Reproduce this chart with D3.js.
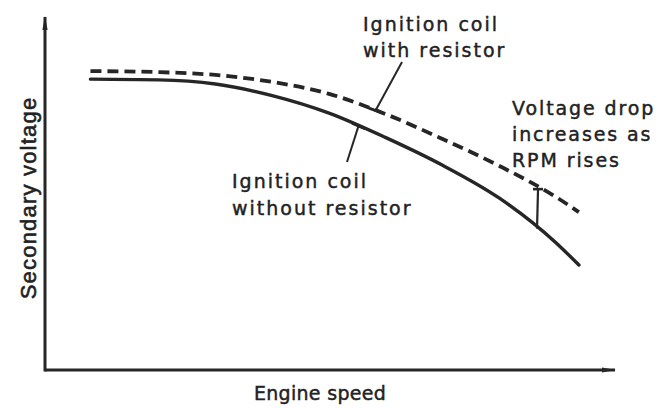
<!DOCTYPE html>
<html>
<head>
<meta charset="utf-8">
<script src="https://cdn.jsdelivr.net/npm/d3@7"></script>
<style>
  html, body { margin: 0; padding: 0; background: #fff; }
  svg { display: block; }
  .lbl { font-family: "DejaVu Sans", sans-serif; fill: #222; stroke: #222; stroke-width: 0.45px; }
</style>
</head>
<body>
<svg id="chart" width="659" height="408"></svg>
<script>
// Engine speed (relative units) sampled along both curves
const speed = [8, 20, 30, 40, 50, 60, 70, 80, 90, 94];
// Secondary voltage (relative units)
const withoutResistor = [83.1, 82.9, 81.7, 78.4, 73.4, 66.4, 58.5, 49.1, 36.3, 30.0];
const withResistor    = [85.4, 85.1, 84.3, 82.3, 78.9, 73.1, 66.0, 58.3, 49.4, 45.1];

const axisLabels = { x: "Engine speed", y: "Secondary voltage" };
const calloutWith = ["Ignition coil", "with resistor"];
const calloutWithout = ["Ignition coil", "without resistor"];
const calloutDrop = ["Voltage drop", "increases as", "RPM rises"];
// speeds where the pointers touch the curves
const pointerWithAt = 58.2;
const pointerWithoutAt = 55.2;
const dropAt = 86.8;

const svg = d3.select("#chart");
const ink = "#262626";

const x = d3.scaleLinear().domain([0, 100]).range([45, 613]);
const y = d3.scaleLinear().domain([0, 100]).range([370, 20]);

// arrowheads for the axes
const defs = svg.append("defs");
defs.append("marker")
  .attr("id", "arrow")
  .attr("viewBox", "0 0 14 6")
  .attr("refX", 13).attr("refY", 3)
  .attr("markerWidth", 14).attr("markerHeight", 6)
  .attr("markerUnits", "userSpaceOnUse")
  .attr("orient", "auto")
  .append("path")
  .attr("d", "M0,0.4 L14,3 L0,5.6 Z")
  .attr("fill", ink);

// axes: plain lines without ticks
const xAxis = d3.axisBottom(x).tickValues([]).tickSizeOuter(0);
const yAxis = d3.axisLeft(y).tickValues([]).tickSizeOuter(0);

const gx = svg.append("g").attr("transform", `translate(0,${y(0)})`).call(xAxis);
gx.select(".domain")
  .attr("d", `M${x(0)},0H${x(100) + 2}`)
  .attr("stroke", ink).attr("stroke-width", 3)
  .attr("marker-end", "url(#arrow)");

const gy = svg.append("g").attr("transform", `translate(${x(0)},0)`).call(yAxis);
gy.select(".domain")
  .attr("d", `M0,${y(0) + 1.5}V${y(100) - 3}`)
  .attr("stroke", ink).attr("stroke-width", 3)
  .attr("marker-end", "url(#arrow)");

// curves
const line = d3.line()
  .x((d, i) => x(speed[i]))
  .y(d => y(d))
  .curve(d3.curveMonotoneX);

svg.append("path")
  .datum(withoutResistor)
  .attr("d", line)
  .attr("fill", "none")
  .attr("stroke", ink)
  .attr("stroke-width", 3.4)
  .attr("stroke-linecap", "round");

svg.append("path")
  .datum(withResistor)
  .attr("d", line)
  .attr("fill", "none")
  .attr("stroke", ink)
  .attr("stroke-width", 3.8)
  .attr("stroke-dasharray", "11,6");

// value on a series at a given speed (linear between samples)
function valueAt(series, s) {
  const i = Math.max(1, Math.min(speed.length - 1, d3.bisectLeft(speed, s)));
  const t = (s - speed[i - 1]) / (speed[i] - speed[i - 1]);
  return series[i - 1] + t * (series[i] - series[i - 1]);
}

// pointer line with a short bar at the curve end
function pointer(x1, y1, s, series) {
  const px = x(s), py = y(valueAt(series, s));
  svg.append("line")
    .attr("x1", x1).attr("y1", y1).attr("x2", px).attr("y2", py)
    .attr("stroke", ink).attr("stroke-width", 2);
  const dx = x(s + 2) - x(s - 2);
  const dy = y(valueAt(series, s + 2)) - y(valueAt(series, s - 2));
  const len = Math.hypot(dx, dy);
  const ux = dx / len * 7, uy = dy / len * 7;
  svg.append("line")
    .attr("x1", px - ux).attr("y1", py - uy)
    .attr("x2", px + ux).attr("y2", py + uy)
    .attr("stroke", ink).attr("stroke-width", 3);
}

pointer(402, 62, pointerWithAt, withResistor);
pointer(347, 162, pointerWithoutAt, withoutResistor);

// voltage drop marker between the two curves
const dx0 = x(dropAt);
const dTop = y(valueAt(withResistor, dropAt)) + 2;
const dBot = y(valueAt(withoutResistor, dropAt));
svg.append("line")
  .attr("x1", dx0).attr("y1", dTop).attr("x2", dx0 - 1).attr("y2", dBot)
  .attr("stroke", ink).attr("stroke-width", 2.2);
svg.append("line")
  .attr("x1", dx0 - 5).attr("y1", dTop).attr("x2", dx0 + 5).attr("y2", dTop)
  .attr("stroke", ink).attr("stroke-width", 2.6);

// text blocks
function block(lines, x0, y0, dy, size, ls) {
  const t = svg.append("text").attr("class", "lbl")
    .attr("font-size", size).attr("letter-spacing", ls);
  lines.forEach((s, i) => {
    t.append("tspan").attr("x", x0).attr("y", y0 + i * dy).text(s);
  });
}

block(calloutWith, 363, 31, 26, 19, 2);
block(calloutWithout, 232, 188, 27, 19, 2);
block(calloutDrop, 512, 115, 26, 19, 1.9);

svg.append("text").attr("class", "lbl")
  .attr("x", 320).attr("y", 400)
  .attr("text-anchor", "middle")
  .attr("font-size", 19).attr("letter-spacing", 0.3)
  .text(axisLabels.x);

svg.append("text")
  .attr("transform", "translate(36,198) rotate(-90)")
  .attr("text-anchor", "middle")
  .attr("font-family", "Liberation Sans, Arial, sans-serif")
  .attr("font-size", 22).attr("letter-spacing", 1.2)
  .attr("fill", "#222").attr("stroke", "#222").attr("stroke-width", 0.6)
  .text(axisLabels.y);
</script>
</body>
</html>
